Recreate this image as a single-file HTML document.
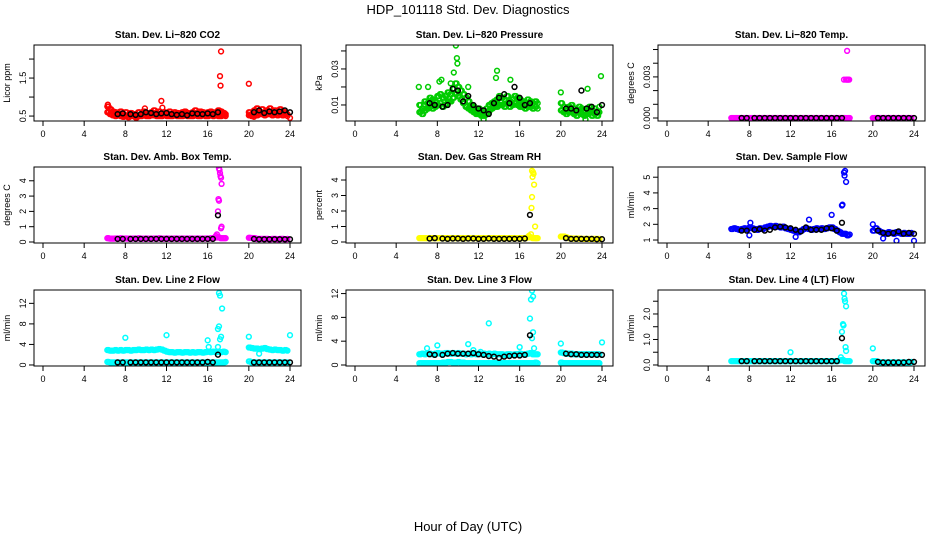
<!DOCTYPE html>
<html><head><meta charset="utf-8">
<style>
body{margin:0;background:#fff;}
svg{display:block;font-family:"Liberation Sans",sans-serif;}
</style></head>
<body>
<svg id="chart" width="936" height="540" viewBox="0 0 936 540">
<text x="468" y="14" text-anchor="middle" font-size="13">HDP_101118  Std. Dev. Diagnostics</text>
<text x="468" y="531" text-anchor="middle" font-size="13">Hour of Day (UTC)</text>
</svg>
<script>
// shared hours for main colored series
const hrs = [6.25,6.5,6.75,7,7.25,7.5,7.75,8,8.25,8.5,8.75,9,9.25,9.5,9.75,10,10.25,10.5,10.75,11,11.25,11.5,11.75,12,12.25,12.5,12.75,13,13.25,13.5,13.75,14,14.25,14.5,14.75,15,15.25,15.5,15.75,16,16.25,16.5,16.75,17,17.25,17.5,17.75,20,20.25,20.5,20.75,21,21.25,21.5,21.75,22,22.25,22.5,22.75,23,23.25,23.5,23.75];
// hours for black (summary) series
const blackHrs = [7.25,7.75,8.5,9,9.5,10,10.5,11,11.5,12,12.5,13,13.5,14,14.5,15,15.5,16,16.5,17,20.5,21,21.5,22,22.5,23,23.5,24];
const xTicks = [0,4,8,12,16,20,24];

const co2Main = [0.75,0.68,0.62,0.6,0.58,0.62,0.55,0.6,0.52,0.58,0.55,0.5,0.6,0.55,0.62,0.58,0.55,0.6,0.65,0.58,0.62,0.55,0.6,0.58,0.62,0.55,0.6,0.58,0.55,0.6,0.62,0.58,0.55,0.6,0.65,0.58,0.62,0.6,0.55,0.6,0.62,0.58,0.6,0.65,0.62,0.58,0.55,0.6,0.55,0.65,0.7,0.62,0.68,0.6,0.65,0.7,0.62,0.65,0.6,0.68,0.62,0.6,0.55];
const co2Low = [0.6,0.55,0.52,0.5,0.52,0.5,0.48,0.5,0.47,0.5,0.5,0.46,0.5,0.5,0.52,0.5,0.5,0.52,0.52,0.5,0.5,0.5,0.52,0.5,0.5,0.5,0.52,0.5,0.5,0.5,0.52,0.5,0.5,0.5,0.52,0.5,0.5,0.52,0.5,0.5,0.52,0.5,0.52,0.5,0.5,0.52,0.5,0.52,0.5,0.55,0.52,0.55,0.55,0.52,0.55,0.55,0.52,0.55,0.52,0.55,0.52,0.55,0.5];
const co2OutX = [11.5,11.6,17.3,17.2,17.25,20,24,20.5,9.9,6.3];
const co2OutY = [0.9,0.72,2.2,1.55,1.3,1.35,0.45,0.48,0.7,0.8];
const co2Black = [0.55,0.57,0.55,0.53,0.55,0.6,0.58,0.55,0.57,0.58,0.55,0.53,0.55,0.52,0.57,0.56,0.55,0.57,0.55,0.6,0.6,0.65,0.58,0.62,0.6,0.62,0.65,0.6];

const presMain = [0.01,0.008,0.012,0.011,0.014,0.013,0.012,0.015,0.016,0.014,0.015,0.017,0.016,0.019,0.022,0.02,0.018,0.016,0.014,0.012,0.01,0.009,0.008,0.008,0.007,0.006,0.008,0.01,0.011,0.012,0.013,0.015,0.014,0.013,0.015,0.012,0.013,0.015,0.014,0.013,0.012,0.011,0.013,0.012,0.011,0.012,0.011,0.011,0.009,0.008,0.009,0.01,0.008,0.007,0.009,0.008,0.007,0.008,0.009,0.007,0.008,0.006,0.009];
const presLow = [0.006,0.005,0.007,0.008,0.009,0.008,0.009,0.01,0.011,0.009,0.01,0.012,0.012,0.014,0.016,0.015,0.013,0.011,0.009,0.008,0.007,0.006,0.005,0.005,0.004,0.004,0.005,0.007,0.008,0.009,0.009,0.01,0.01,0.009,0.011,0.009,0.01,0.011,0.01,0.009,0.009,0.008,0.009,0.009,0.008,0.009,0.008,0.007,0.006,0.005,0.006,0.006,0.005,0.004,0.006,0.005,0.004,0.005,0.006,0.004,0.005,0.004,0.006];
const presOutX = [9.8,9.9,9.95,9.6,13.8,13.7,23.9,6.2,6.5,12.5,22.4,8.2,8.4,15.1,22.6,20,7.1,9.3,11.0];
const presOutY = [0.043,0.036,0.033,0.028,0.029,0.025,0.026,0.02,0.007,0.002,0.002,0.023,0.024,0.024,0.019,0.017,0.02,0.022,0.02];
const presBlack = [0.011,0.01,0.009,0.01,0.019,0.018,0.012,0.015,0.01,0.008,0.007,0.005,0.011,0.014,0.016,0.011,0.02,0.014,0.01,0.011,0.008,0.008,0.007,0.018,0.008,0.009,0.006,0.01];

const tempMain = [0,0,0,0,0,0,0,0,0,0,0,0,0,0,0,0,0,0,0,0,0,0,0,0,0,0,0,0,0,0,0,0,0,0,0,0,0,0,0,0,0,0,0,0,0,0,0,0,0,0,0,0,0,0,0,0,0,0,0,0,0,0,0];
const tempOutX = [17.2,17.4,17.5,17.6,17.7,17.5];
const tempOutY = [0.0028,0.0028,0.0028,0.0028,0.0028,0.0049];
const tempBlack = [0,0,0,0,0,0,0,0,0,0,0,0,0,0,0,0,0,0,0,0,0,0,0,0,0,0,0,0];

const ambMain = [0.25,0.22,0.22,0.23,0.22,0.24,0.22,0.23,0.22,0.22,0.23,0.22,0.24,0.22,0.22,0.23,0.22,0.22,0.23,0.22,0.24,0.22,0.22,0.23,0.22,0.22,0.23,0.22,0.22,0.23,0.22,0.22,0.23,0.22,0.22,0.23,0.22,0.22,0.23,0.22,0.24,0.25,0.3,0.3,0.25,0.25,0.25,0.28,0.26,0.25,0.2,0.2,0.2,0.2,0.2,0.18,0.2,0.2,0.18,0.2,0.2,0.18,0.2];
const ambOutX = [17.1,17.15,17.2,17.25,17.3,17.35,17.05,17.1,17.0,17.35,17.3,16.9,16.8];
const ambOutY = [4.8,4.7,4.5,4.3,4.2,3.8,2.8,2.7,2.0,1.0,0.9,0.5,0.4];
const ambBlack = [0.2,0.2,0.2,0.2,0.2,0.2,0.2,0.2,0.2,0.2,0.2,0.2,0.2,0.2,0.2,0.2,0.2,0.2,0.2,1.75,0.2,0.18,0.18,0.18,0.18,0.18,0.18,0.18];

const rhMain = [0.25,0.25,0.25,0.25,0.25,0.25,0.25,0.25,0.25,0.25,0.25,0.25,0.25,0.25,0.25,0.25,0.25,0.25,0.25,0.25,0.25,0.25,0.25,0.25,0.25,0.25,0.25,0.25,0.25,0.25,0.25,0.25,0.25,0.25,0.25,0.25,0.25,0.25,0.25,0.25,0.25,0.25,0.3,0.3,0.25,0.25,0.25,0.35,0.35,0.3,0.25,0.22,0.22,0.22,0.22,0.2,0.2,0.2,0.2,0.2,0.2,0.2,0.2];
const rhOutX = [17.2,17.3,17.25,17.35,17.4,17.2,17.15,17.1,17.5,17.6,16.9];
const rhOutY = [4.6,4.5,4.2,4.4,3.7,2.9,2.2,0.5,1.0,0.25,0.4];
const rhBlack = [0.22,0.25,0.22,0.2,0.22,0.22,0.2,0.22,0.22,0.2,0.2,0.22,0.2,0.2,0.2,0.2,0.2,0.2,0.22,1.75,0.25,0.2,0.2,0.2,0.2,0.2,0.18,0.18];

const flowMain = [1.7,1.75,1.7,1.65,1.7,1.75,1.7,1.8,1.75,1.7,1.65,1.75,1.7,1.8,1.85,1.9,1.85,1.9,1.85,1.8,1.85,1.75,1.7,1.65,1.6,1.55,1.5,1.6,1.7,1.75,1.7,1.65,1.7,1.75,1.7,1.75,1.7,1.75,1.8,1.8,1.7,1.6,1.5,1.4,1.4,1.3,1.35,1.6,1.75,1.6,1.5,1.45,1.4,1.5,1.45,1.4,1.5,1.45,1.4,1.45,1.4,1.4,1.45];
const flowOutX = [16.0,13.8,17.2,17.3,17.25,17.4,17.0,17.05,24,22.3,8,20,8.1,12.5,21.0];
const flowOutY = [2.6,2.3,5.3,5.4,5.1,4.7,3.2,3.25,0.95,0.95,1.3,2.0,2.1,1.2,1.1];
const flowBlack = [1.6,1.6,1.65,1.7,1.6,1.65,1.8,1.85,1.8,1.75,1.65,1.55,1.8,1.65,1.65,1.65,1.75,1.75,1.6,2.1,1.6,1.45,1.4,1.45,1.55,1.4,1.45,1.4];

const l2Main = [2.9,2.8,2.8,2.9,2.8,2.9,2.8,2.9,2.9,2.8,2.9,2.9,3.0,2.9,2.9,3.0,2.9,3.0,2.9,3.0,3.1,3.0,2.8,2.6,2.5,2.5,2.4,2.5,2.5,2.4,2.5,2.5,2.4,2.5,2.4,2.5,2.5,2.4,2.5,2.6,2.5,2.6,2.5,2.6,2.5,2.6,2.5,3.4,3.3,3.2,3.2,3.1,3.2,3.3,3.1,3.0,2.9,3.0,2.9,2.9,2.8,2.9,2.8];
const l2Low = [0.6,0.5,0.5,0.5,0.5,0.5,0.5,0.5,0.5,0.5,0.5,0.5,0.5,0.5,0.5,0.5,0.5,0.5,0.5,0.5,0.5,0.5,0.5,0.5,0.5,0.5,0.5,0.5,0.5,0.5,0.5,0.5,0.5,0.5,0.5,0.5,0.5,0.5,0.5,0.5,0.5,0.5,0.5,0.5,0.5,0.5,0.6,0.7,0.5,0.5,0.5,0.5,0.5,0.5,0.5,0.5,0.5,0.5,0.5,0.5,0.5,0.5,0.5];
const l2OutX = [8,12,16,16.1,17.1,17.2,17.4,17.1,17.0,17.3,17.2,20,24,21,17.0];
const l2OutY = [5.3,5.8,4.8,3.5,14,13.5,11,7.5,7,5.5,5,5.5,5.8,2.2,3.5];
const l2Black = [0.5,0.5,0.5,0.5,0.5,0.5,0.5,0.5,0.5,0.5,0.5,0.5,0.5,0.5,0.5,0.5,0.5,0.6,0.5,2.0,0.5,0.5,0.5,0.5,0.5,0.5,0.5,0.5];

const l3Main = [1.8,1.9,1.8,1.9,1.9,1.8,1.9,2.0,1.9,1.9,2.0,2.0,1.9,2.0,1.9,2.0,1.9,1.9,1.8,1.9,1.8,1.9,1.8,1.9,1.8,1.9,1.8,1.9,1.8,1.9,1.8,1.8,1.8,1.7,1.8,1.8,1.7,1.8,1.8,1.9,1.8,1.8,1.9,2.0,1.8,1.8,1.8,2.1,2.0,1.9,1.9,1.9,1.8,1.8,1.8,1.8,1.8,1.8,1.8,1.8,1.8,1.8,1.8];
const l3Low = [0.3,0.3,0.3,0.3,0.3,0.3,0.3,0.3,0.3,0.4,0.4,0.5,0.5,0.4,0.4,0.5,0.4,0.4,0.3,0.3,0.3,0.3,0.3,0.3,0.3,0.3,0.3,0.3,0.3,0.3,0.3,0.3,0.3,0.3,0.3,0.3,0.3,0.3,0.3,0.3,0.3,0.3,0.3,0.3,0.3,0.4,0.3,0.4,0.3,0.3,0.3,0.3,0.3,0.3,0.3,0.3,0.3,0.3,0.3,0.3,0.3,0.3,0.3];
const l3OutX = [7.0,8,11,11.5,13,12.2,16,17.0,17.2,17.1,17.3,17.3,17.2,17.4,20,24];
const l3OutY = [2.8,3.3,3.5,2.5,7.0,2.2,3.0,7.8,12.5,11,11.5,5.5,4.5,2.8,3.6,3.8];
const l3Black = [1.8,1.7,1.7,1.9,2.0,1.9,1.9,1.9,2.0,1.8,1.7,1.5,1.4,1.2,1.4,1.5,1.6,1.6,1.7,5.0,1.9,1.8,1.8,1.7,1.7,1.7,1.7,1.7];

const ltMain = [0.15,0.15,0.15,0.15,0.15,0.15,0.15,0.15,0.15,0.15,0.15,0.15,0.15,0.15,0.15,0.15,0.15,0.15,0.15,0.15,0.15,0.15,0.15,0.15,0.15,0.15,0.15,0.15,0.15,0.15,0.15,0.15,0.15,0.15,0.15,0.15,0.15,0.15,0.15,0.15,0.15,0.15,0.18,0.2,0.15,0.15,0.15,0.15,0.15,0.12,0.1,0.1,0.1,0.1,0.1,0.1,0.1,0.1,0.1,0.1,0.1,0.1,0.12];
const ltOutX = [12,17.0,17.1,17.2,17.25,17.3,17.4,17.35,17.4,16.9,20,17.15];
const ltOutY = [0.5,1.3,1.6,2.8,2.6,2.5,2.3,0.7,0.55,0.3,0.65,1.55];
const ltBlack = [0.15,0.15,0.15,0.15,0.15,0.15,0.15,0.15,0.15,0.15,0.15,0.15,0.15,0.15,0.15,0.15,0.15,0.15,0.15,1.05,0.12,0.1,0.1,0.1,0.1,0.1,0.12,0.12];

const NS = 'http://www.w3.org/2000/svg';
const svg = document.getElementById('chart');
function mk(tag, attrs, parent){const e=document.createElementNS(NS,tag);for(const k in attrs)e.setAttribute(k,attrs[k]);(parent||svg).appendChild(e);return e;}

const colLeft=[34,346,658], rowTop=[45,167,290], W=267, H=76;
const panels = [
 {id:'co2',title:'Stan. Dev. Li\u2212820 CO2',ylab:'Licor ppm',color:'#ff0000',lo:0.37,hi:2.37,ticks:[0.5,1,1.5,2],labels:{'0.5':'0.5','1.5':'1.5'},series:[co2Main,co2Low],ox:co2OutX,oy:co2OutY,bl:co2Black},
 {id:'pressure',title:'Stan. Dev. Li\u2212820 Pressure',ylab:'kPa',color:'#00cc00',lo:0.0011,hi:0.0433,ticks:[0.01,0.02,0.03,0.04],labels:{'0.01':'0.01','0.03':'0.03'},series:[presMain,presLow],ox:presOutX,oy:presOutY,bl:presBlack},
 {id:'licor-temp',title:'Stan. Dev. Li\u2212820 Temp.',ylab:'degrees C',color:'#ff00ff',lo:-0.00022,hi:0.00533,ticks:[0,0.001,0.002,0.003,0.004,0.005],labels:{'0':'0.000','0.003':'0.003'},series:[tempMain],ox:tempOutX,oy:tempOutY,bl:tempBlack},
 {id:'amb-temp',title:'Stan. Dev. Amb. Box Temp.',ylab:'degrees C',color:'#ff00ff',lo:-0.065,hi:4.9,ticks:[0,1,2,3,4],labels:{'0':'0','1':'1','2':'2','3':'3','4':'4'},series:[ambMain],ox:ambOutX,oy:ambOutY,bl:ambBlack},
 {id:'rh',title:'Stan. Dev. Gas Stream RH',ylab:'percent',color:'#ffff00',lo:-0.065,hi:4.84,ticks:[0,1,2,3,4],labels:{'0':'0','1':'1','2':'2','3':'3','4':'4'},series:[rhMain],ox:rhOutX,oy:rhOutY,bl:rhBlack},
 {id:'sample-flow',title:'Stan. Dev. Sample Flow',ylab:'ml/min',color:'#0000ff',lo:0.81,hi:5.65,ticks:[1,2,3,4,5],labels:{'1':'1','2':'2','3':'3','4':'4','5':'5'},series:[flowMain],ox:flowOutX,oy:flowOutY,bl:flowBlack},
 {id:'line2',title:'Stan. Dev. Line 2 Flow',ylab:'ml/min',color:'#00ffff',lo:-0.2,hi:14.6,ticks:[0,4,8,12],labels:{'0':'0','4':'4','8':'8','12':'12'},series:[l2Main,l2Low],ox:l2OutX,oy:l2OutY,bl:l2Black},
 {id:'line3',title:'Stan. Dev. Line 3 Flow',ylab:'ml/min',color:'#00ffff',lo:-0.17,hi:12.6,ticks:[0,4,8,12],labels:{'0':'0','4':'4','8':'8','12':'12'},series:[l3Main,l3Low],ox:l3OutX,oy:l3OutY,bl:l3Black},
 {id:'line4',title:'Stan. Dev. Line 4 (LT) Flow',ylab:'ml/min',color:'#00ffff',lo:-0.04,hi:2.94,ticks:[0,0.5,1,1.5,2,2.5],labels:{'0':'0.0','1':'1.0','2':'2.0'},series:[ltMain],ox:ltOutX,oy:ltOutY,bl:ltBlack}
];

panels.forEach((p,i)=>{
  const L=colLeft[i%3], T=rowTop[Math.floor(i/3)];
  const xs=h=>L+9+h*247/24;
  const ys=v=>T+H-(v-p.lo)/(p.hi-p.lo)*H;
  const g=mk('g',{});
  
  
  const t=mk('text',{x:L+W/2,y:T-7,'text-anchor':'middle','font-size':10,'font-weight':'bold'},g);
  t.textContent=p.title;
  
  
  const yl=mk('text',{transform:`translate(${L-24},${T+H/2}) rotate(-90)`,'text-anchor':'middle','font-size':9},g);
  yl.textContent=p.ylab;
  
  
  // x axis
  xTicks.forEach(v=>{
    const x=xs(v);
    mk('line',{x1:x,x2:x,y1:T+H,y2:T+H+5,stroke:'#000','stroke-width':1},g);
    const tx=mk('text',{x:x,y:T+H+16,'text-anchor':'middle','font-size':9},g);
    tx.textContent=v;
    
    
  });
  // y axis
  p.ticks.forEach(v=>{
    const y=ys(v);
    mk('line',{x1:L-5,x2:L,y1:y,y2:y,stroke:'#000','stroke-width':1},g);
    const key=String(v);
    if(p.labels[key]!==undefined){
      const ty=mk('text',{transform:`translate(${L-8},${y}) rotate(-90)`,'text-anchor':'middle','font-size':9},g);
      ty.textContent=p.labels[key];
      
      
    }
  });
  const clip=mk('clipPath',{id:'c'+i},g);
  mk('rect',{x:L,y:T,width:W,height:H},clip);
  const pts=mk('g',{'clip-path':`url(#c${i})`,fill:'none'},g);
  
  
  const dot=(h,v,col)=>{
    const c=mk('circle',{cx:xs(h),cy:ys(v),r:2.4,stroke:col,'stroke-width':1.5},pts);
    
    
  };
  p.series.forEach(arr=>{
    const n=Math.min(arr.length,hrs.length);
    for(let k=0;k<n;k++){dot(hrs[k],arr[k],p.color);if(k+1<n&&hrs[k+1]-hrs[k]<0.3){dot(hrs[k]+0.125,arr[k],p.color);}}
  });
  for(let k=0;k<p.ox.length;k++)dot(p.ox[k],p.oy[k],p.color);
  for(let k=0;k<Math.min(p.bl.length,blackHrs.length);k++)dot(blackHrs[k],p.bl[k],'#000');
  const box=mk('rect',{x:L,y:T,width:W,height:H,fill:'none',stroke:'#000','stroke-width':1},g);
  
  
});
</script>
</body></html>
